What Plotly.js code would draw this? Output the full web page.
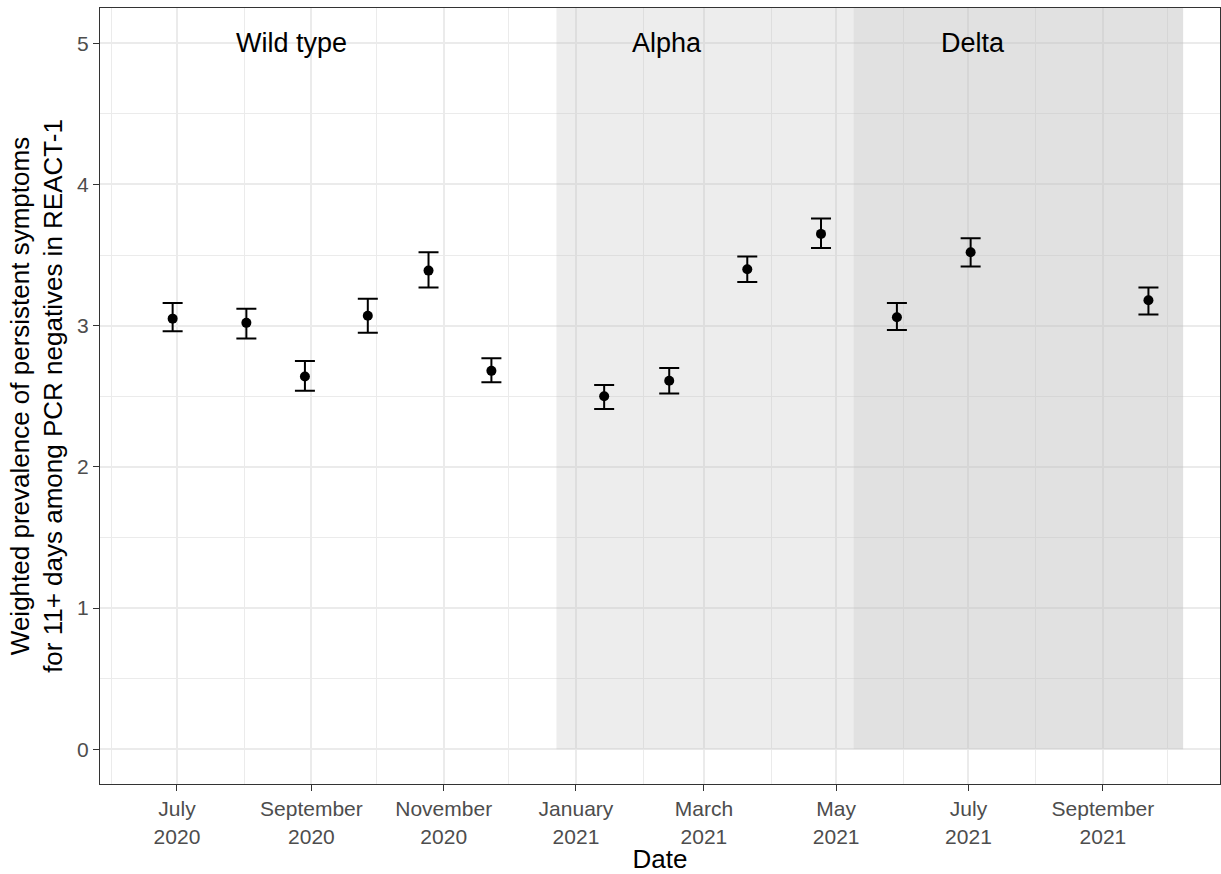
<!DOCTYPE html>
<html>
<head>
<meta charset="utf-8">
<script src="https://cdn.plot.ly/plotly-3.0.1.min.js"></script>
<style>html,body{margin:0;padding:0;background:#fff;}#chart{width:1221px;height:874px;}</style>
</head>
<body>
<div id="chart"></div>
<script>
// Survey round midpoints and weighted prevalence (%) with 95% CI
const dates = ['2020-06-29','2020-08-02','2020-08-29','2020-09-27','2020-10-25','2020-11-23','2021-01-14','2021-02-13','2021-03-21','2021-04-24','2021-05-29','2021-07-02','2021-09-22'];
const prevalence = [3.05, 3.02, 2.64, 3.07, 3.39, 2.68, 2.50, 2.61, 3.40, 3.65, 3.06, 3.52, 3.18];
const lower = [2.96, 2.91, 2.54, 2.95, 3.27, 2.60, 2.41, 2.52, 3.31, 3.55, 2.97, 3.42, 3.08];
const upper = [3.16, 3.12, 2.75, 3.19, 3.52, 2.77, 2.58, 2.70, 3.49, 3.76, 3.16, 3.62, 3.27];

// Variant periods (shaded) and labels
const periodNames = ['Alpha', 'Delta'];
const periodStart = ['2020-12-23', '2021-05-09'];
const periodEnd = ['2021-05-09', '2021-10-08'];
const periodFill = ['rgba(190,190,190,0.28)', 'rgba(190,190,190,0.46)'];
const labelText = ['Wild type', 'Alpha', 'Delta'];
const labelDates = ['2020-08-23', '2021-02-12', '2021-07-03'];
const labelY = [5, 5, 5];

const xRange = ['2020-05-26 12:00', '2021-10-25'];
const yRange = [-0.246, 5.25];

const trace = {
  type: 'scatter',
  mode: 'markers',
  x: dates,
  y: prevalence,
  marker: {color: '#000000', size: 10},
  error_y: {
    type: 'data',
    symmetric: false,
    array: upper.map((u, i) => u - prevalence[i]),
    arrayminus: lower.map((l, i) => prevalence[i] - l),
    color: '#000000',
    thickness: 2,
    width: 10
  },
  hoverinfo: 'x+y',
  showlegend: false
};

const shapes = periodNames.map((n, i) => ({
  type: 'rect', xref: 'x', yref: 'y', layer: 'between',
  x0: periodStart[i], x1: periodEnd[i], y0: 0, y1: yRange[1],
  fillcolor: periodFill[i], line: {width: 0}
}));

const annotations = labelText.map((t, i) => ({
  x: labelDates[i], y: labelY[i], xref: 'x', yref: 'y', text: t,
  showarrow: false, font: {family: 'Liberation Sans, Arial, sans-serif', size: 27, color: '#000000'},
  xanchor: 'center', yanchor: 'middle'
}));

const tickFont = {family: 'Liberation Sans, Arial, sans-serif', size: 21, color: '#4D4D4D'};
const titleFont = {family: 'Liberation Sans, Arial, sans-serif', size: 26, color: '#000000'};

const layout = {
  width: 1221, height: 874,
  margin: {l: 100, r: 1, t: 8, b: 90, pad: 0},
  paper_bgcolor: '#ffffff', plot_bgcolor: '#ffffff',
  showlegend: false,
  xaxis: {
    type: 'date', range: xRange,
    tick0: '2020-07-01', dtick: 'M2', tickformat: '%B<br>%Y',
    ticks: 'outside', ticklen: 6, tickwidth: 1.2, tickcolor: '#333333',
    tickfont: tickFont,
    showgrid: true, gridcolor: '#EBEBEB', gridwidth: 1.6,
    minor: {dtick: 'M1', showgrid: true, gridcolor: '#EBEBEB', gridwidth: 0.8, ticks: ''},
    showline: true, linecolor: '#333333', linewidth: 1.2, mirror: true,
    zeroline: false,
    title: {text: 'Date', font: titleFont, standoff: 8}
  },
  yaxis: {
    range: yRange, dtick: 1, tick0: 0,
    ticks: 'outside', ticklen: 6, tickwidth: 1.2, tickcolor: '#333333',
    tickfont: tickFont,
    showgrid: true, gridcolor: '#EBEBEB', gridwidth: 1.6,
    minor: {dtick: 0.5, showgrid: true, gridcolor: '#EBEBEB', gridwidth: 0.8, ticks: ''},
    showline: true, linecolor: '#333333', linewidth: 1.2, mirror: true,
    zeroline: false,
    title: {text: 'Weighted prevalence of persistent symptoms<br>for 11+ days among PCR negatives in REACT-1', font: titleFont, standoff: 6}
  },
  shapes: shapes,
  annotations: annotations
};

Plotly.newPlot('chart', [trace], layout, {displayModeBar: false, responsive: false});
</script>
</body>
</html>
